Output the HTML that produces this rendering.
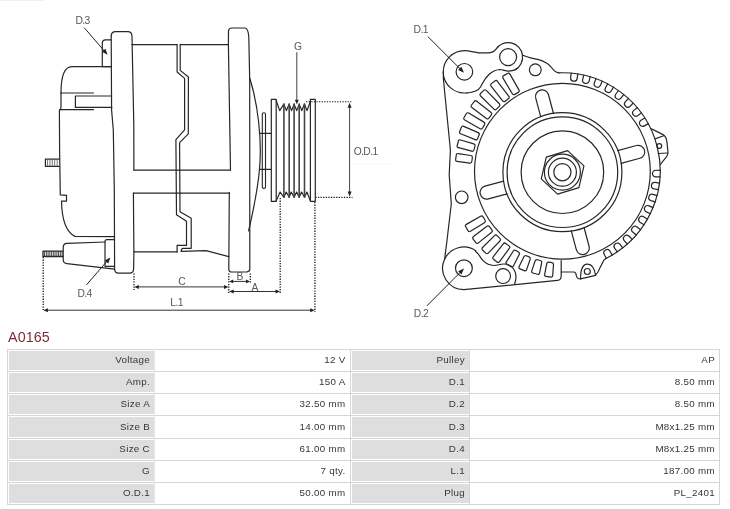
<!DOCTYPE html>
<html><head><meta charset="utf-8"><style>
html,body{margin:0;padding:0;background:#fff;width:730px;height:509px;overflow:hidden}
body{position:relative;font-family:"Liberation Sans",sans-serif}
svg{position:absolute;left:0;top:0;will-change:transform}
svg text{font-family:"Liberation Sans",sans-serif}
.title{position:absolute;left:7.5px;top:329px;font-size:14.3px;color:#7f2a37;line-height:16px;letter-spacing:0.1px;will-change:transform}
.tbl{position:absolute;left:0;top:0;width:730px;height:509px;will-change:transform}
.lab{position:absolute;background:#dedede;box-sizing:border-box;border:1px solid #fff;border-right:none}
.t{position:absolute;font-size:9.8px;letter-spacing:0.3px;color:#363636;white-space:nowrap}
.hl{position:absolute;left:7px;width:713px;height:1px;background:#d6d6d6}
.vl{position:absolute;top:349px;height:156px;width:1px}
</style></head><body>
<svg width="730" height="330" viewBox="0 0 730 330" stroke-linecap="round" stroke-linejoin="round">
<path d="M 111.2 66.6 L 102.3 66.6 L 102.3 43.2 Q 102.3 39.8 105.6 39.8 L 111.2 39.8" stroke="#262626" stroke-width="1.2" fill="none" />
<path d="M 111.5 66.6 L 72 66.6 C 64.5 66.6 61 76 61 93" stroke="#262626" stroke-width="1.2" fill="none" />
<line x1="61.00" y1="93.00" x2="93.50" y2="93.00" stroke="#262626" stroke-width="1.2" />
<path d="M 111.7 96 L 75.4 96 L 75.4 107.3 L 111.9 107.3" stroke="#262626" stroke-width="1.2" fill="none" />
<line x1="59.60" y1="109.60" x2="93.50" y2="109.60" stroke="#262626" stroke-width="1.2" />
<path d="M 61 93 L 61 106.5 Q 61 109.6 59.6 110.5" stroke="#262626" stroke-width="1.2" fill="none" />
<path d="M 59.4 110.5 L 59.6 150 L 60.3 194.8 L 66.5 195.3 L 66.5 201.2 L 61.5 201.2 C 61.8 216 64 231 75 236.4 L 114.5 236.6" stroke="#262626" stroke-width="1.2" fill="none" />
<path d="M 45.4 159.1 L 59 159.1 M 45.4 166.4 L 59 166.4 M 45.4 159.1 L 45.4 166.4" stroke="#262626" stroke-width="1.2" fill="none" />
<line x1="47.60" y1="159.60" x2="47.60" y2="165.90" stroke="#666" stroke-width="0.9" />
<line x1="50.00" y1="159.60" x2="50.00" y2="165.90" stroke="#666" stroke-width="0.9" />
<line x1="52.30" y1="159.60" x2="52.30" y2="165.90" stroke="#666" stroke-width="0.9" />
<line x1="54.70" y1="159.60" x2="54.70" y2="165.90" stroke="#666" stroke-width="0.9" />
<line x1="57.20" y1="159.60" x2="57.20" y2="165.90" stroke="#666" stroke-width="0.9" />
<path d="M 111.2 36 Q 111.3 31.6 115.6 31.6 L 127.8 31.6 Q 131.9 31.6 132 36.5 L 133.8 125 L 133.9 170.1" stroke="#262626" stroke-width="1.2" fill="none" />
<path d="M 133.4 193.1 L 133.9 251.9 L 133.6 269 Q 133.5 273.1 129.5 273.1 L 118.6 273.1 Q 114.6 273.1 114.6 269 L 114.3 190 L 113.3 130 L 111.6 110 L 111.2 36" stroke="#262626" stroke-width="1.2" fill="none" />
<path d="M 105 242 L 67 243.4 Q 63.2 243.6 63.2 247.4 L 63.2 259.6 Q 63.2 263.3 67 263.7 L 114.5 269.2" stroke="#262626" stroke-width="1.2" fill="none" />
<path d="M 114.5 239.7 L 107 239.7 Q 105 239.7 105 241.7 L 105 266.3 L 114.5 266.3" stroke="#262626" stroke-width="1.2" fill="none" />
<path d="M 43 251.1 L 63 251.1 M 43 256.5 L 63 256.5 M 43 251.1 L 43 256.5" stroke="#262626" stroke-width="1.3" fill="none" />
<line x1="44.60" y1="251.50" x2="44.60" y2="256.10" stroke="#333" stroke-width="0.9" />
<line x1="46.35" y1="251.50" x2="46.35" y2="256.10" stroke="#333" stroke-width="0.9" />
<line x1="48.10" y1="251.50" x2="48.10" y2="256.10" stroke="#333" stroke-width="0.9" />
<line x1="49.85" y1="251.50" x2="49.85" y2="256.10" stroke="#333" stroke-width="0.9" />
<line x1="51.60" y1="251.50" x2="51.60" y2="256.10" stroke="#333" stroke-width="0.9" />
<line x1="53.35" y1="251.50" x2="53.35" y2="256.10" stroke="#333" stroke-width="0.9" />
<line x1="55.10" y1="251.50" x2="55.10" y2="256.10" stroke="#333" stroke-width="0.9" />
<line x1="56.85" y1="251.50" x2="56.85" y2="256.10" stroke="#333" stroke-width="0.9" />
<line x1="58.60" y1="251.50" x2="58.60" y2="256.10" stroke="#333" stroke-width="0.9" />
<line x1="60.35" y1="251.50" x2="60.35" y2="256.10" stroke="#333" stroke-width="0.9" />
<line x1="62.10" y1="251.50" x2="62.10" y2="256.10" stroke="#333" stroke-width="0.9" />
<path d="M 132 44.6 L 177.1 44.6 M 180.2 44.6 L 228.3 44.6" stroke="#262626" stroke-width="1.2" fill="none" />
<line x1="133.90" y1="170.10" x2="230.50" y2="170.10" stroke="#262626" stroke-width="1.2" />
<line x1="133.40" y1="193.10" x2="229.30" y2="193.10" stroke="#262626" stroke-width="1.2" />
<path d="M 133.9 251.9 L 177.1 251.9" stroke="#262626" stroke-width="1.2" fill="none" />
<path d="M 181.2 251.3 L 206 250.7 L 228.8 256.6" stroke="#262626" stroke-width="1.2" fill="none" />
<path d="M 177.10 44.60 L 177.10 72.00 L 184.60 78.40 L 184.60 129.80 L 175.90 139.60 L 176.50 214.70 L 186.50 221.20 L 186.50 245.40 L 177.10 245.40 L 177.10 251.90" stroke="#262626" stroke-width="1.2" fill="none" />
<path d="M 180.20 44.60 L 180.20 70.40 L 188.40 77.00 L 188.30 133.80 L 179.60 142.60 L 180.00 211.80 L 191.20 218.30 L 191.20 248.30 L 183.20 248.30 Q 181.2 248.3 181.2 251.3" stroke="#262626" stroke-width="1.2" fill="none" />
<path d="M 230.5 170.1 L 228.4 44.6 L 228.5 31 Q 228.8 28 231.8 28 L 245.2 28 Q 248.2 28.6 248.8 37 L 249.7 80 L 249.8 269 Q 249.8 271.6 247 271.8 L 231.6 272 Q 228.8 272 228.8 269.2 L 229.3 192.4" stroke="#262626" stroke-width="1.2" fill="none" />
<path d="M 249.7 78 C 258 104, 262 140, 259.6 168 C 257.6 193, 252.5 213, 248.6 231" stroke="#262626" stroke-width="1.2" fill="none" />
<path d="M 262.3 187.3 L 262.3 114 Q 262.3 112.8 263.9 112.8 Q 265.5 112.8 265.5 114 L 265.5 187.3 Q 265.5 188.4 263.9 188.4 Q 262.3 188.4 262.3 187.3 Z" stroke="#262626" stroke-width="1.1" fill="none" />
<line x1="259.40" y1="133.40" x2="271.30" y2="133.40" stroke="#262626" stroke-width="1.2" />
<line x1="259.60" y1="169.40" x2="271.30" y2="169.40" stroke="#262626" stroke-width="1.2" />
<path d="M 271.3 201.3 L 271.3 99.4 L 276.2 99.4 L 276.2 201.3 Z" stroke="#262626" stroke-width="1.2" fill="none" />
<path d="M 310.4 201.3 L 310.4 99.4 L 315.3 99.4 L 315.3 201.3 Z" stroke="#262626" stroke-width="1.2" fill="none" />
<path d="M 276.20 100.50 L 279.70 110.60 L 283.90 104.10 L 286.40 110.60 L 289.20 104.10 L 291.60 110.60 L 294.10 104.10 L 296.70 110.60 L 299.20 104.10 L 301.80 110.60 L 304.50 104.10 L 307.00 110.60 L 310.40 101.50" stroke="#262626" stroke-width="1.2" fill="none" />
<path d="M 276.20 200.80 L 280.10 192.00 L 283.90 197.30 L 286.20 192.00 L 289.20 197.30 L 291.20 192.00 L 294.10 197.30 L 296.60 192.00 L 299.20 197.30 L 301.60 192.00 L 304.50 197.30 L 306.90 192.00 L 310.30 200.50" stroke="#262626" stroke-width="1.2" fill="none" />
<line x1="283.90" y1="104.10" x2="283.90" y2="197.30" stroke="#444" stroke-width="1.6" />
<line x1="289.20" y1="104.10" x2="289.20" y2="197.30" stroke="#444" stroke-width="1.6" />
<line x1="294.10" y1="104.10" x2="294.10" y2="197.30" stroke="#444" stroke-width="1.6" />
<line x1="299.20" y1="104.10" x2="299.20" y2="197.30" stroke="#444" stroke-width="1.6" />
<line x1="304.50" y1="104.10" x2="304.50" y2="197.30" stroke="#444" stroke-width="1.6" />
<text x="294.0" y="49.6" font-size="10.3" fill="#585858" stroke="#585858" stroke-width="0" text-anchor="start" letter-spacing="-0.6">G</text>
<line x1="296.80" y1="52.60" x2="296.80" y2="99.50" stroke="#444" stroke-width="1.0" />
<path d="M 296.80 104.20 L 294.80 99.70 L 298.80 99.70 Z" fill="#222"/>
<line x1="306.00" y1="101.80" x2="351.30" y2="101.80" stroke="#1a1a1a" stroke-width="1.1" stroke-dasharray="1.3 1.3" stroke-linecap="butt"/>
<line x1="315.30" y1="197.40" x2="352.50" y2="197.40" stroke="#1a1a1a" stroke-width="1.1" stroke-dasharray="1.3 1.3" stroke-linecap="butt"/>
<line x1="349.60" y1="107.00" x2="349.60" y2="192.50" stroke="#444" stroke-width="1.0" />
<path d="M 349.60 102.80 L 351.60 107.80 L 347.60 107.80 Z" fill="#222"/>
<path d="M 349.60 196.40 L 347.60 191.40 L 351.60 191.40 Z" fill="#222"/>
<text x="353.7" y="154.6" font-size="10.3" fill="#585858" stroke="#585858" stroke-width="0" text-anchor="start" letter-spacing="-0.6">O.D.1</text>
<line x1="352.00" y1="164.30" x2="392.00" y2="164.30" stroke="#eee" stroke-width="0.6" />
<line x1="43.20" y1="257.00" x2="43.20" y2="310.00" stroke="#1a1a1a" stroke-width="1.3" stroke-dasharray="1.3 1.3" stroke-linecap="butt"/>
<line x1="134.00" y1="273.50" x2="134.00" y2="290.00" stroke="#1a1a1a" stroke-width="1.3" stroke-dasharray="1.3 1.3" stroke-linecap="butt"/>
<line x1="228.80" y1="273.50" x2="228.80" y2="293.00" stroke="#1a1a1a" stroke-width="1.3" stroke-dasharray="1.3 1.3" stroke-linecap="butt"/>
<line x1="250.30" y1="273.50" x2="250.30" y2="283.00" stroke="#1a1a1a" stroke-width="1.3" stroke-dasharray="1.3 1.3" stroke-linecap="butt"/>
<line x1="280.20" y1="198.00" x2="280.20" y2="294.00" stroke="#1a1a1a" stroke-width="1.3" stroke-dasharray="1.3 1.3" stroke-linecap="butt"/>
<line x1="314.90" y1="202.00" x2="314.90" y2="312.00" stroke="#1a1a1a" stroke-width="1.3" stroke-dasharray="1.3 1.3" stroke-linecap="butt"/>
<line x1="138.00" y1="286.90" x2="225.00" y2="286.90" stroke="#333" stroke-width="1.0" />
<path d="M 134.30 286.90 L 138.80 284.90 L 138.80 288.90 Z" fill="#222"/>
<path d="M 228.50 286.90 L 224.00 288.90 L 224.00 284.90 Z" fill="#222"/>
<line x1="232.00" y1="281.40" x2="247.00" y2="281.40" stroke="#333" stroke-width="1.0" />
<path d="M 229.20 281.40 L 233.20 279.60 L 233.20 283.20 Z" fill="#222"/>
<path d="M 250.00 281.40 L 246.00 283.20 L 246.00 279.60 Z" fill="#222"/>
<line x1="232.00" y1="291.50" x2="277.00" y2="291.50" stroke="#333" stroke-width="1.0" />
<path d="M 229.20 291.50 L 233.70 289.50 L 233.70 293.50 Z" fill="#222"/>
<path d="M 280.00 291.50 L 275.50 293.50 L 275.50 289.50 Z" fill="#222"/>
<line x1="47.00" y1="310.20" x2="311.00" y2="310.20" stroke="#333" stroke-width="1.0" />
<path d="M 43.40 310.20 L 47.90 308.20 L 47.90 312.20 Z" fill="#222"/>
<path d="M 314.70 310.20 L 310.20 312.20 L 310.20 308.20 Z" fill="#222"/>
<text x="181.6" y="284.7" font-size="10.3" fill="#585858" stroke="#585858" stroke-width="0" text-anchor="middle" letter-spacing="-0.6">C</text>
<text x="239.6" y="280.1" font-size="10.3" fill="#585858" stroke="#585858" stroke-width="0" text-anchor="middle" letter-spacing="-0.6">B</text>
<text x="254.7" y="291.1" font-size="10.3" fill="#585858" stroke="#585858" stroke-width="0" text-anchor="middle" letter-spacing="-0.6">A</text>
<text x="176.6" y="306.3" font-size="10.3" fill="#585858" stroke="#585858" stroke-width="0" text-anchor="middle" letter-spacing="-0.6">L.1</text>
<text x="75.4" y="24.3" font-size="10.3" fill="#585858" stroke="#585858" stroke-width="0" text-anchor="start" letter-spacing="-0.6">D.3</text>
<line x1="84.50" y1="28.00" x2="104.60" y2="51.30" stroke="#222" stroke-width="1.0" />
<path d="M 107.60 54.80 L 101.94 51.76 L 105.42 48.75 Z" fill="#222"/>
<text x="77.4" y="297.3" font-size="10.3" fill="#585858" stroke="#585858" stroke-width="0" text-anchor="start" letter-spacing="-0.6">D.4</text>
<line x1="86.80" y1="284.50" x2="107.30" y2="260.90" stroke="#222" stroke-width="1.0" />
<path d="M 110.40 257.40 L 108.19 263.44 L 104.73 260.41 Z" fill="#222"/>
<circle cx="562.40" cy="172.20" r="41.30" stroke="#262626" stroke-width="1.2" fill="none"/>
<circle cx="562.40" cy="172.20" r="55.30" stroke="#262626" stroke-width="1.2" fill="none"/>
<circle cx="562.40" cy="172.20" r="59.50" stroke="#262626" stroke-width="1.2" fill="none"/>
<circle cx="562.40" cy="171.25" r="87.90" stroke="#262626" stroke-width="1.2" fill="none"/>
<circle cx="562.40" cy="172.20" r="8.60" stroke="#262626" stroke-width="1.2" fill="none"/>
<circle cx="562.40" cy="172.20" r="14.00" stroke="#262626" stroke-width="1.2" fill="none"/>
<circle cx="562.40" cy="172.20" r="18.00" stroke="#262626" stroke-width="1.2" fill="none"/>
<path d="M 567.62 150.67 L 583.93 165.88 L 578.91 187.61 L 557.58 194.13 L 541.27 178.92 L 546.29 157.19 Z" stroke="#262626" stroke-width="1.2" fill="none" />
<path d="M 553.50 113.50 L 548.48 94.76 A 6.6 6.6 0 0 0 535.73 98.18 L 540.75 116.92" stroke="#262626" stroke-width="1.2" fill="none" />
<path d="M 621.10 163.30 L 639.84 158.28 A 6.6 6.6 0 0 0 636.42 145.53 L 617.68 150.55" stroke="#262626" stroke-width="1.2" fill="none" />
<path d="M 571.30 230.90 L 576.32 249.64 A 6.6 6.6 0 0 0 589.07 246.22 L 584.05 227.48" stroke="#262626" stroke-width="1.2" fill="none" />
<path d="M 503.70 181.10 L 484.96 186.12 A 6.6 6.6 0 0 0 488.38 198.87 L 507.12 193.85" stroke="#262626" stroke-width="1.2" fill="none" />
<path d="M 518.25 92.37 Q 519.81 91.47 518.92 89.90 L 509.91 74.09 Q 509.02 72.52 507.46 73.43 L 503.66 75.64 Q 502.10 76.55 503.02 78.10 L 512.32 93.74 Q 513.24 95.29 514.80 94.38 Z" stroke="#262626" stroke-width="1.2" fill="none" />
<path d="M 508.34 98.72 Q 509.77 97.62 508.68 96.19 L 497.40 81.27 Q 496.32 79.83 494.89 80.93 L 491.41 83.62 Q 489.98 84.72 491.09 86.13 L 502.63 100.85 Q 503.74 102.26 505.17 101.16 Z" stroke="#262626" stroke-width="1.2" fill="none" />
<path d="M 499.33 106.30 Q 500.60 105.02 499.34 103.74 L 486.23 90.40 Q 484.97 89.11 483.70 90.39 L 480.59 93.50 Q 479.31 94.77 480.60 96.03 L 493.94 109.14 Q 495.22 110.40 496.50 109.13 Z" stroke="#262626" stroke-width="1.2" fill="none" />
<path d="M 491.36 114.97 Q 492.46 113.54 491.05 112.43 L 476.73 101.20 Q 475.31 100.08 474.21 101.51 L 471.53 105.00 Q 470.43 106.42 471.87 107.51 L 486.39 118.48 Q 487.82 119.57 488.92 118.14 Z" stroke="#262626" stroke-width="1.2" fill="none" />
<path d="M 484.58 124.60 Q 485.49 123.04 483.94 122.12 L 468.73 113.07 Q 467.18 112.15 466.28 113.71 L 464.06 117.51 Q 463.16 119.07 464.72 119.96 L 480.10 128.72 Q 481.67 129.61 482.57 128.05 Z" stroke="#262626" stroke-width="1.2" fill="none" />
<path d="M 479.10 135.01 Q 479.80 133.36 478.15 132.64 L 463.74 126.41 Q 462.08 125.69 461.39 127.35 L 459.68 131.41 Q 458.98 133.07 460.65 133.75 L 475.19 139.68 Q 476.85 140.36 477.55 138.70 Z" stroke="#262626" stroke-width="1.2" fill="none" />
<path d="M 475.01 146.05 Q 475.48 144.32 473.75 143.82 L 460.59 140.03 Q 458.86 139.53 458.38 141.27 L 457.21 145.51 Q 456.73 147.24 458.47 147.70 L 471.72 151.19 Q 473.47 151.64 473.94 149.91 Z" stroke="#262626" stroke-width="1.2" fill="none" />
<path d="M 472.37 157.53 Q 472.62 155.74 470.84 155.47 L 458.28 153.55 Q 456.50 153.28 456.25 155.06 L 455.64 159.42 Q 455.39 161.20 457.17 161.43 L 469.77 163.04 Q 471.56 163.27 471.81 161.49 Z" stroke="#262626" stroke-width="1.2" fill="none" />
<path d="M 483.05 216.80 Q 482.14 215.25 480.58 216.15 L 466.38 224.36 Q 464.82 225.26 465.74 226.81 L 467.98 230.60 Q 468.89 232.15 470.43 231.21 L 484.47 222.73 Q 486.01 221.79 485.09 220.24 Z" stroke="#262626" stroke-width="1.2" fill="none" />
<path d="M 489.46 226.65 Q 488.35 225.23 486.92 226.33 L 473.50 236.60 Q 472.07 237.69 473.18 239.11 L 475.89 242.58 Q 477.00 244.00 478.41 242.88 L 491.62 232.34 Q 493.03 231.22 491.92 229.80 Z" stroke="#262626" stroke-width="1.2" fill="none" />
<path d="M 497.08 235.59 Q 495.80 234.33 494.52 235.60 L 482.54 247.51 Q 481.26 248.78 482.54 250.05 L 485.68 253.14 Q 486.96 254.40 488.21 253.11 L 499.96 240.96 Q 501.21 239.66 499.93 238.40 Z" stroke="#262626" stroke-width="1.2" fill="none" />
<path d="M 505.79 243.48 Q 504.35 242.39 503.25 243.81 L 493.21 256.77 Q 492.10 258.20 493.54 259.28 L 497.04 261.94 Q 498.48 263.03 499.55 261.59 L 509.33 248.43 Q 510.41 246.98 508.97 245.89 Z" stroke="#262626" stroke-width="1.2" fill="none" />
<path d="M 515.87 250.42 Q 514.31 249.53 513.34 251.04 L 506.35 261.91 Q 505.37 263.42 506.94 264.32 L 511.01 266.65 Q 512.58 267.55 513.39 265.94 L 519.23 254.41 Q 520.04 252.81 518.48 251.91 Z" stroke="#262626" stroke-width="1.2" fill="none" />
<path d="M 526.34 255.76 Q 524.67 255.08 523.89 256.70 L 519.14 266.54 Q 518.36 268.16 520.02 268.84 L 524.37 270.64 Q 526.03 271.32 526.62 269.62 L 530.19 259.29 Q 530.77 257.59 529.11 256.91 Z" stroke="#262626" stroke-width="1.2" fill="none" />
<path d="M 537.40 259.71 Q 535.66 259.25 535.09 260.95 L 531.79 270.84 Q 531.22 272.55 532.95 273.01 L 537.49 274.23 Q 539.23 274.70 539.59 272.93 L 541.68 262.72 Q 542.04 260.95 540.30 260.49 Z" stroke="#262626" stroke-width="1.2" fill="none" />
<path d="M 548.88 262.20 Q 547.09 261.96 546.75 263.73 L 544.68 274.46 Q 544.33 276.22 546.12 276.46 L 550.78 277.08 Q 552.56 277.32 552.69 275.53 L 553.50 264.63 Q 553.64 262.84 551.85 262.60 Z" stroke="#262626" stroke-width="1.2" fill="none" />
<path d="M 577.76 73.94 L 577.21 78.30 A 3.3 3.3 0 0 1 570.66 77.47 L 571.21 73.11" stroke="#262626" stroke-width="1.2" fill="none" />
<path d="M 590.18 76.77 L 589.07 81.03 A 3.3 3.3 0 0 1 582.68 79.36 L 583.79 75.10" stroke="#262626" stroke-width="1.2" fill="none" />
<path d="M 602.13 81.19 L 600.47 85.27 A 3.3 3.3 0 0 1 594.36 82.79 L 596.01 78.71" stroke="#262626" stroke-width="1.2" fill="none" />
<path d="M 613.40 87.12 L 611.23 90.95 A 3.3 3.3 0 0 1 605.49 87.70 L 607.66 83.87" stroke="#262626" stroke-width="1.2" fill="none" />
<path d="M 623.81 94.47 L 621.17 97.98 A 3.3 3.3 0 0 1 615.89 94.01 L 618.54 90.50" stroke="#262626" stroke-width="1.2" fill="none" />
<path d="M 633.18 103.10 L 630.10 106.24 A 3.3 3.3 0 0 1 625.39 101.62 L 628.47 98.48" stroke="#262626" stroke-width="1.2" fill="none" />
<path d="M 641.36 112.88 L 637.89 115.59 A 3.3 3.3 0 0 1 633.82 110.40 L 637.28 107.68" stroke="#262626" stroke-width="1.2" fill="none" />
<path d="M 648.19 123.63 L 644.41 125.87 A 3.3 3.3 0 0 1 641.04 120.19 L 644.83 117.95" stroke="#262626" stroke-width="1.2" fill="none" />
<path d="M 660.06 176.96 L 655.66 176.83 A 3.3 3.3 0 0 1 655.86 170.23 L 660.25 170.36" stroke="#262626" stroke-width="1.2" fill="none" />
<path d="M 658.43 189.59 L 654.08 188.89 A 3.3 3.3 0 0 1 655.13 182.38 L 659.48 183.08" stroke="#262626" stroke-width="1.2" fill="none" />
<path d="M 655.17 201.91 L 650.96 200.65 A 3.3 3.3 0 0 1 652.84 194.33 L 657.06 195.58" stroke="#262626" stroke-width="1.2" fill="none" />
<path d="M 650.35 213.70 L 646.33 211.91 A 3.3 3.3 0 0 1 649.02 205.88 L 653.04 207.67" stroke="#262626" stroke-width="1.2" fill="none" />
<path d="M 644.03 224.77 L 640.28 222.47 A 3.3 3.3 0 0 1 643.73 216.84 L 647.48 219.14" stroke="#262626" stroke-width="1.2" fill="none" />
<path d="M 636.34 234.92 L 632.92 232.16 A 3.3 3.3 0 0 1 637.07 227.02 L 640.49 229.79" stroke="#262626" stroke-width="1.2" fill="none" />
<path d="M 627.39 243.99 L 624.36 240.81 A 3.3 3.3 0 0 1 629.14 236.26 L 632.17 239.44" stroke="#262626" stroke-width="1.2" fill="none" />
<path d="M 617.35 251.83 L 614.75 248.28 A 3.3 3.3 0 0 1 620.08 244.38 L 622.67 247.94" stroke="#262626" stroke-width="1.2" fill="none" />
<path d="M 606.37 258.30 L 604.25 254.44 A 3.3 3.3 0 0 1 610.04 251.27 L 612.16 255.13" stroke="#262626" stroke-width="1.2" fill="none" />
<path d="M 558.78 72.81 A 98.0 98.0 0 0 1 605.93 258.45" stroke="#262626" stroke-width="1.2" fill="none" />
<path d="M 558.78 72.81 C 556 72.5 555 71.5 553.9 70.3 C 551.5 67.5 549 64.5 546.8 63.3 C 543 61 540 60 538.6 59.7 C 533 58.5 527 57.5 522.46 55.08 A 14.5 14.5 0 0 0 495.80 49.42 C 494 52 491 52.8 488 52.9 C 484 53 481 53 478.6 52.8 C 474 52.2 469 50.6 464.4 50.6 A 21.2 21.2 0 0 0 443.3 72 L 443.4 79 L 450.4 150 L 449.2 175 L 451.3 203.8 L 447 240.5 L 444.60 259.30 A 21.3 21.3 0 0 0 463.90 289.60 L 535 282.7 L 557.5 280.4 Q 561.2 280 561.2 276 L 561.2 260.5 " stroke="#262626" stroke-width="1.2" fill="none" />
<path d="M 561.2 272 L 573.9 272 Q 576 272.2 576.3 275.5 Q 577 279 580.6 278.9 L 595.5 275.3 Q 598.5 272 599.6 268.6 L 603.7 260.4 L 605.93 258.45" stroke="#262626" stroke-width="1.2" fill="none" />
<circle cx="587.30" cy="271.50" r="3.00" stroke="#262626" stroke-width="1.2" fill="none"/>
<path d="M 580.6 278.9 C 580.5 272, 582 264.5, 587.3 264.2 C 592.5 264, 594.5 268, 595.5 275.3" stroke="#262626" stroke-width="1.2" fill="none" />
<path d="M 651.2 128.7 L 656.6 131.4 L 663.1 134.6 Q 666 136.5 666.9 141.6 L 668 152.5 Q 667.8 155.5 666.4 156.8 L 660.4 164.4" stroke="#262626" stroke-width="1.2" fill="none" />
<line x1="655.00" y1="138.90" x2="663.70" y2="135.70" stroke="#262626" stroke-width="1.2" />
<line x1="658.30" y1="153.50" x2="667.50" y2="153.00" stroke="#262626" stroke-width="1.2" />
<circle cx="659.30" cy="146.00" r="2.40" stroke="#262626" stroke-width="1.2" fill="none"/>
<circle cx="464.40" cy="71.80" r="8.30" stroke="#262626" stroke-width="1.2" fill="none"/>
<circle cx="508.10" cy="57.10" r="8.50" stroke="#262626" stroke-width="1.2" fill="none"/>
<circle cx="535.30" cy="69.80" r="5.90" stroke="#262626" stroke-width="1.2" fill="none"/>
<circle cx="463.90" cy="268.20" r="8.40" stroke="#262626" stroke-width="1.2" fill="none"/>
<circle cx="503.10" cy="276.10" r="7.40" stroke="#262626" stroke-width="1.2" fill="none"/>
<circle cx="461.70" cy="197.30" r="6.30" stroke="#262626" stroke-width="1.2" fill="none"/>
<path d="M 443.20 71.80 A 21.2 21.2 0 0 0 466.98 92.84" stroke="#262626" stroke-width="1.2" fill="none" />
<path d="M 522.46 55.08 A 14.5 14.5 0 0 1 514.91 69.90" stroke="#262626" stroke-width="1.2" fill="none" />
<path d="M 444.60 259.30 A 21.3 21.3 0 0 1 475.81 250.64" stroke="#262626" stroke-width="1.2" fill="none" />
<path d="M 466.8 93 C 473 92.5 478 91.5 480.5 87 C 483 83 484 79 489.2 74.2 C 493 71 497 69.6 499.8 69.5 C 503 69.7 505 70.9 508.1 71.2 C 513 71.2 516 69.5 517.5 68.3" stroke="#262626" stroke-width="1.2" fill="none" />
<path d="M 475.6 251.4 C 479 253.5 480.5 258.5 483.4 260.9 C 486 263.5 490 265.3 494 265.5 C 497.5 265.4 500 264 503.6 264 C 508.5 264 512 266 513.7 269 C 516.2 273 516.5 279 514.6 284" stroke="#262626" stroke-width="1.2" fill="none" />
<text x="413.6" y="33.3" font-size="10.3" fill="#585858" stroke="#585858" stroke-width="0" text-anchor="start" letter-spacing="-0.6">D.1</text>
<line x1="428.30" y1="37.00" x2="460.50" y2="69.20" stroke="#222" stroke-width="1.0" />
<path d="M 464.00 72.70 L 458.13 70.08 L 461.38 66.83 Z" fill="#222"/>
<text x="413.8" y="316.8" font-size="10.3" fill="#585858" stroke="#585858" stroke-width="0" text-anchor="start" letter-spacing="-0.6">D.2</text>
<line x1="427.10" y1="305.60" x2="459.80" y2="272.80" stroke="#222" stroke-width="1.0" />
<path d="M 464.00 268.60 L 461.38 274.47 L 458.13 271.22 Z" fill="#222"/>
</svg>
<div style="position:absolute;left:0;top:0;width:45px;height:1px;background:#f1f1f1"></div>
<div class="title">A0165</div>
<div class="tbl">
<div class="lab" style="left:8px;top:350px;width:146px;height:21px"></div>
<div class="lab" style="left:351px;top:350px;width:118px;height:21px"></div>
<div class="t" style="right:580px;top:349.2px;height:22px;line-height:22px">Voltage</div>
<div class="t" style="right:384.5px;top:349.2px;height:22px;line-height:22px">12 V</div>
<div class="t" style="right:265px;top:349.2px;height:22px;line-height:22px">Pulley</div>
<div class="t" style="right:15px;top:349.2px;height:22px;line-height:22px">AP</div>
<div class="lab" style="left:8px;top:372px;width:146px;height:21px"></div>
<div class="lab" style="left:351px;top:372px;width:118px;height:21px"></div>
<div class="t" style="right:580px;top:371.2px;height:22px;line-height:22px">Amp.</div>
<div class="t" style="right:384.5px;top:371.2px;height:22px;line-height:22px">150 A</div>
<div class="t" style="right:265px;top:371.2px;height:22px;line-height:22px">D.1</div>
<div class="t" style="right:15px;top:371.2px;height:22px;line-height:22px">8.50 mm</div>
<div class="lab" style="left:8px;top:394px;width:146px;height:21px"></div>
<div class="lab" style="left:351px;top:394px;width:118px;height:21px"></div>
<div class="t" style="right:580px;top:393.2px;height:22px;line-height:22px">Size A</div>
<div class="t" style="right:384.5px;top:393.2px;height:22px;line-height:22px">32.50 mm</div>
<div class="t" style="right:265px;top:393.2px;height:22px;line-height:22px">D.2</div>
<div class="t" style="right:15px;top:393.2px;height:22px;line-height:22px">8.50 mm</div>
<div class="lab" style="left:8px;top:416px;width:146px;height:22px"></div>
<div class="lab" style="left:351px;top:416px;width:118px;height:22px"></div>
<div class="t" style="right:580px;top:415.2px;height:23px;line-height:23px">Size B</div>
<div class="t" style="right:384.5px;top:415.2px;height:23px;line-height:23px">14.00 mm</div>
<div class="t" style="right:265px;top:415.2px;height:23px;line-height:23px">D.3</div>
<div class="t" style="right:15px;top:415.2px;height:23px;line-height:23px">M8x1.25 mm</div>
<div class="lab" style="left:8px;top:439px;width:146px;height:21px"></div>
<div class="lab" style="left:351px;top:439px;width:118px;height:21px"></div>
<div class="t" style="right:580px;top:438.2px;height:22px;line-height:22px">Size C</div>
<div class="t" style="right:384.5px;top:438.2px;height:22px;line-height:22px">61.00 mm</div>
<div class="t" style="right:265px;top:438.2px;height:22px;line-height:22px">D.4</div>
<div class="t" style="right:15px;top:438.2px;height:22px;line-height:22px">M8x1.25 mm</div>
<div class="lab" style="left:8px;top:461px;width:146px;height:21px"></div>
<div class="lab" style="left:351px;top:461px;width:118px;height:21px"></div>
<div class="t" style="right:580px;top:460.2px;height:22px;line-height:22px">G</div>
<div class="t" style="right:384.5px;top:460.2px;height:22px;line-height:22px">7 qty.</div>
<div class="t" style="right:265px;top:460.2px;height:22px;line-height:22px">L.1</div>
<div class="t" style="right:15px;top:460.2px;height:22px;line-height:22px">187.00 mm</div>
<div class="lab" style="left:8px;top:483px;width:146px;height:21px"></div>
<div class="lab" style="left:351px;top:483px;width:118px;height:21px"></div>
<div class="t" style="right:580px;top:482.2px;height:22px;line-height:22px">O.D.1</div>
<div class="t" style="right:384.5px;top:482.2px;height:22px;line-height:22px">50.00 mm</div>
<div class="t" style="right:265px;top:482.2px;height:22px;line-height:22px">Plug</div>
<div class="t" style="right:15px;top:482.2px;height:22px;line-height:22px">PL_2401</div>
<div class="hl" style="top:349px"></div>
<div class="hl" style="top:371px"></div>
<div class="hl" style="top:393px"></div>
<div class="hl" style="top:415px"></div>
<div class="hl" style="top:438px"></div>
<div class="hl" style="top:460px"></div>
<div class="hl" style="top:482px"></div>
<div class="hl" style="top:504px"></div>
<div class="vl" style="left:7px;background:#d6d6d6"></div>
<div class="vl" style="left:154px;background:#e6e6e6"></div>
<div class="vl" style="left:350px;background:#d6d6d6"></div>
<div class="vl" style="left:469px;background:#d6d6d6"></div>
<div class="vl" style="left:719px;background:#d6d6d6"></div>
</div>
</body></html>
